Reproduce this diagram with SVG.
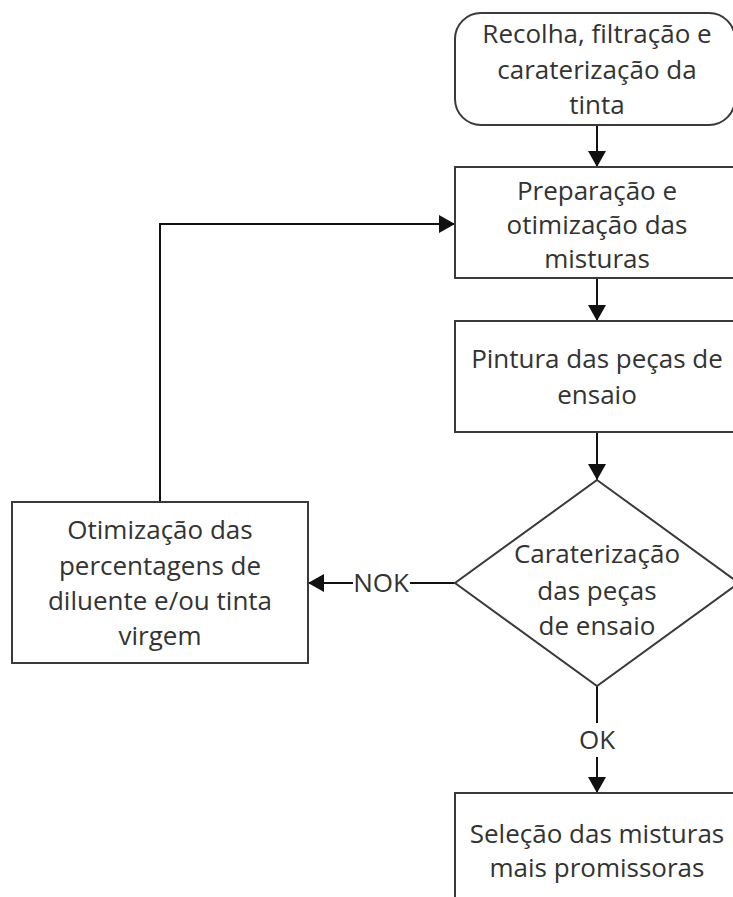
<svg xmlns="http://www.w3.org/2000/svg" width="733" height="897" viewBox="0 0 733 897">
<defs>
<marker id="arr" markerWidth="16" markerHeight="18" refX="16" refY="9" orient="auto" markerUnits="userSpaceOnUse">
<path d="M0,0 L16,9 L0,18 Z" fill="#111"/>
</marker>
<style>
.box{fill:#fff;stroke:#3a3a3a;stroke-width:2}
.t{font-family:"Open Sans","Noto Sans",sans-serif;font-size:26px;fill:#333;text-anchor:middle}
.c{fill:none;stroke:#111;stroke-width:2}
.lbg{fill:#fff}
</style>
</defs>
<rect width="733" height="897" fill="#fff"/>
<g id="connectors">
<line class="c" x1="597" y1="125" x2="597" y2="167" marker-end="url(#arr)"/>
<line class="c" x1="597" y1="278" x2="597" y2="321" marker-end="url(#arr)"/>
<line class="c" x1="597" y1="432" x2="597" y2="480" marker-end="url(#arr)"/>
<line class="c" x1="597" y1="686" x2="597" y2="793" marker-end="url(#arr)"/>
<line class="c" x1="455" y1="583" x2="308" y2="583" marker-end="url(#arr)"/>
<polyline class="c" points="160,502 160,224 455,224" marker-end="url(#arr)"/>
<rect class="lbg" x="353" y="567" width="57" height="32"/>
<text class="t" x="381" y="592">NOK</text>
<rect class="lbg" x="577" y="723" width="40" height="34"/>
<text class="t" x="597" y="749">OK</text>
</g>
<g id="n1">
<rect class="box" x="455" y="13" width="280" height="112" rx="26" ry="26"/>
<text class="t" x="597" y="43">Recolha, filtração e</text>
<text class="t" x="597" y="79">caraterização da</text>
<text class="t" x="597" y="114">tinta</text>
</g>
<g id="n2">
<rect class="box" x="455" y="167" width="290" height="111"/>
<text class="t" x="597" y="200">Preparação e</text>
<text class="t" x="597" y="234">otimização das</text>
<text class="t" x="597" y="268">misturas</text>
</g>
<g id="n3">
<rect class="box" x="455" y="321" width="290" height="111"/>
<text class="t" x="597" y="368">Pintura das peças de</text>
<text class="t" x="597" y="404">ensaio</text>
</g>
<g id="n4">
<polygon class="box" points="597,480 739,583 597,686 455,583"/>
<text class="t" x="597" y="563">Caraterização</text>
<text class="t" x="597" y="600">das peças</text>
<text class="t" x="597" y="635">de ensaio</text>
</g>
<g id="n5">
<rect class="box" x="12" y="502" width="296" height="161"/>
<text class="t" x="160" y="539">Otimização das</text>
<text class="t" x="160" y="575">percentagens de</text>
<text class="t" x="160" y="610">diluente e/ou tinta</text>
<text class="t" x="160" y="645">virgem</text>
</g>
<g id="n6">
<rect class="box" x="455" y="793" width="290" height="120"/>
<text class="t" x="597" y="843">Seleção das misturas</text>
<text class="t" x="597" y="877">mais promissoras</text>
</g>
</svg>
